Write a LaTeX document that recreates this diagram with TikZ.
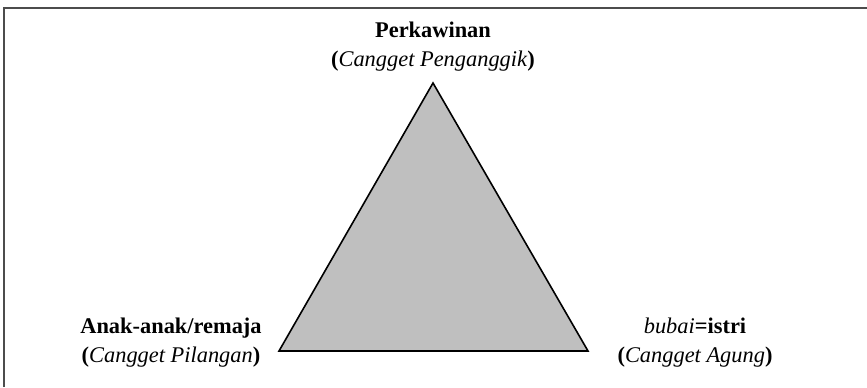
\documentclass[tikz,border=0pt]{standalone}
\usepackage{fontspec}
\setmainfont{Liberation Serif}
\usetikzlibrary{positioning}
\begin{document}
\begin{tikzpicture}[x=0.5pt,y=-0.5pt]
	\tikzset{lbl/.style={align=center,inner sep=0pt,font=\fontsize{11.2}{14.5}\selectfont}}
	\useasboundingbox (0,0) rectangle (867,387);
	\draw[line width=1pt,color=black!70] (4,387)--(4,8)--(867,8);
	
	\coordinate (P) at (433,83);
	\coordinate (A) at (279,351);
	\coordinate (B) at (588,351);
	\draw[fill=black!25,line width=0.8pt] (P)--(A)--(B)--cycle;
	
	\node[lbl] (perk) at (433,47) {\textbf{Perkawinan}\\\textbf{(}\textit{Cangget Penganggik}\textbf{)}};
	\node[lbl] (anak) at (171,343) {\textbf{Anak-anak/remaja}\\\textbf{(}\textit{Cangget Pilangan}\textbf{)}};
	\node[lbl] (istri) at (695,343) {\textit{bubai}\textbf{=istri}\\\textbf{(}\textit{Cangget Agung}\textbf{)}};
	
\end{tikzpicture}
\end{document}
